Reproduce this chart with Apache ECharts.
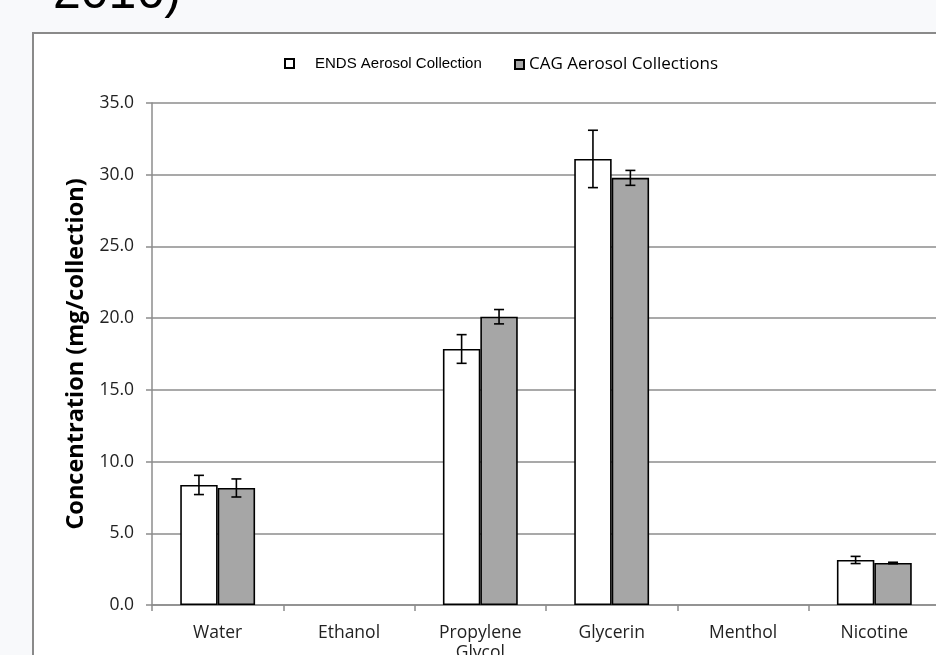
<!DOCTYPE html>
<html>
<head>
<meta charset="utf-8">
<script src="https://cdn.jsdelivr.net/npm/echarts@6/dist/echarts.min.js"></script>
<style>
html,body{margin:0;padding:0;background:#f8f9fb;}
#chart{width:936px;height:655px;}
</style>
</head>
<body>
<div id="chart"></div>
<script>
const categories = ['Water', 'Ethanol', 'Propylene\nGlycol', 'Glycerin', 'Menthol', 'Nicotine'];
const endsValues = [8.37, null, 17.85, 31.1, null, 3.14];
const endsErrors = [0.67, null, 1.0, 2.0, null, 0.25];
const cagValues = [8.16, null, 20.1, 29.78, null, 2.93];
const cagErrors = [0.63, null, 0.5, 0.52, null, 0.05];
const yTicks = [0, 5, 10, 15, 20, 25, 30, 35];
const seriesNames = ['ENDS Aerosol Collection', 'CAG Aerosol Collections'];

const BAR_FRAC = 0.285;

function errorSeries(values, errors, sign) {
  const data = [];
  values.forEach((v, i) => {
    if (v != null && errors[i] != null) data.push([i, v - errors[i], v + errors[i]]);
  });
  return {
    type: 'custom',
    silent: true,
    z: 10,
    data: data,
    renderItem: function (params, api) {
      const idx = api.value(0);
      const lo = api.coord([idx, api.value(1)]);
      const hi = api.coord([idx, api.value(2)]);
      const catW = api.size([1, 0])[0];
      const x = lo[0] + sign * catW * BAR_FRAC / 2;
      const cap = 5;
      const style = { stroke: '#000', lineWidth: 1.6 };
      return {
        type: 'group',
        children: [
          { type: 'line', shape: { x1: x, y1: lo[1], x2: x, y2: hi[1] }, style: style },
          { type: 'line', shape: { x1: x - cap, y1: lo[1], x2: x + cap, y2: lo[1] }, style: style },
          { type: 'line', shape: { x1: x - cap, y1: hi[1], x2: x + cap, y2: hi[1] }, style: style }
        ]
      };
    }
  };
}

const chart = echarts.init(document.getElementById('chart'));
chart.setOption({
  backgroundColor: '#f8f9fb',
  animation: false,
  graphic: [
    {
      type: 'rect', z: -10,
      shape: { x: 33, y: 33, width: 920, height: 640 },
      style: { fill: '#ffffff', stroke: '#8a8a8a', lineWidth: 2 }
    },
    {
      type: 'text', left: 53, top: -31,
      style: { text: '2016)', font: '50px "Liberation Sans", Arial, sans-serif', fill: '#000' }
    }
  ],
  legend: [
    {
      data: [{ name: seriesNames[0], textStyle: { fontFamily: '"Liberation Sans", sans-serif', fontSize: 15, padding: [0, 0, 0, 16], color: '#000' } }],
      left: 279, top: 51, itemWidth: 9, itemHeight: 9, icon: 'rect', selectedMode: false
    },
    {
      data: [{ name: seriesNames[1], textStyle: { fontFamily: '"Open Sans", sans-serif', fontSize: 17, padding: [0, 0, 0, 0], color: '#000' } }],
      left: 509, top: 51, itemWidth: 9, itemHeight: 9, icon: 'rect', selectedMode: false
    }
  ],
  grid: { left: 152, top: 103, width: 788, height: 502, containLabel: false, outerBoundsMode: 'none' },
  xAxis: {
    type: 'category',
    data: categories,
    axisLine: { lineStyle: { color: '#8c8c8c', width: 1.5 } },
    axisTick: { show: true, length: 6, lineStyle: { color: '#8c8c8c', width: 1.5 } },
    axisLabel: { color: '#222', fontFamily: '"Open Sans", sans-serif', fontSize: 17.5, margin: 18, lineHeight: 20, interval: 0 }
  },
  yAxis: {
    type: 'value',
    min: yTicks[0], max: yTicks[yTicks.length - 1], interval: 5,
    name: 'Concentration (mg/collection)',
    nameLocation: 'middle',
    nameGap: 56,
    nameTextStyle: { fontFamily: '"Open Sans", sans-serif', fontWeight: 'bold', fontSize: 23.5, color: '#000' },
    axisLine: { show: true, lineStyle: { color: '#8c8c8c', width: 1.5 } },
    axisTick: { show: true, length: 6, lineStyle: { color: '#8c8c8c', width: 1.5 } },
    splitLine: { lineStyle: { color: '#8c8c8c', width: 1.5 } },
    axisLabel: { color: '#222', fontFamily: '"Open Sans", sans-serif', fontSize: 17.5, margin: 18, formatter: v => v.toFixed(1) }
  },
  series: [
    {
      name: seriesNames[0], type: 'bar', data: endsValues,
      barWidth: (BAR_FRAC * 100) + '%', barGap: '0%',
      itemStyle: { color: '#ffffff', borderColor: '#000', borderWidth: 1.6 }
    },
    {
      name: seriesNames[1], type: 'bar', data: cagValues,
      barWidth: (BAR_FRAC * 100) + '%', barGap: '0%',
      itemStyle: { color: '#a6a6a6', borderColor: '#000', borderWidth: 1.6 }
    },
    errorSeries(endsValues, endsErrors, -1),
    errorSeries(cagValues, cagErrors, 1)
  ]
});
</script>
</body>
</html>
